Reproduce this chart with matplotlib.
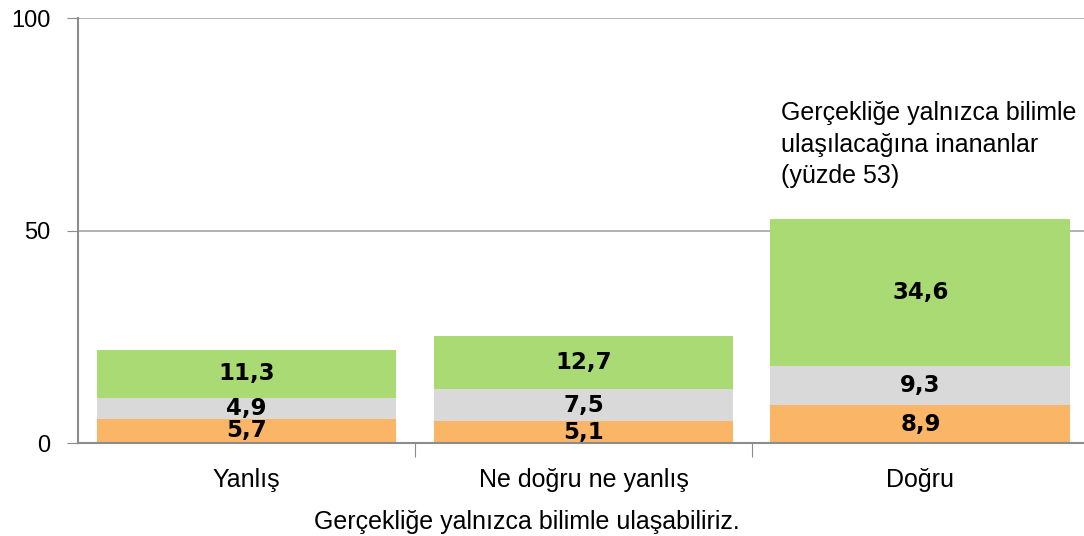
import matplotlib
matplotlib.use("Agg")
import matplotlib.pyplot as plt
import numpy as np

plt.rcParams['font.family'] = ['Liberation Sans', 'DejaVu Sans']

categories = ["Yanlış", "Ne doğru ne yanlış", "Doğru"]
bottom_vals = [5.7, 5.1, 8.9]
middle_vals = [4.9, 7.5, 9.3]
top_vals = [11.3, 12.7, 34.6]

colors = ["#FBB566", "#D9D9D9", "#A9DA74"]

fig = plt.figure(figsize=(10.84, 5.36), dpi=100)
ax = fig.add_axes([0.072, 0.1735, 0.9325, 0.7925])

x = np.arange(len(categories))
width = 0.89
base = np.zeros(len(categories))
for vals, col in zip([bottom_vals, middle_vals, top_vals], colors):
    vals = np.array(vals)
    ax.bar(x, vals, width, bottom=base, color=col, zorder=2)
    for xi, b, v in zip(x, base, vals):
        ax.text(xi, b + v / 2, f"{v:.1f}".replace(".", ","), ha="center", va="center",
                fontsize=16.5, fontweight="bold", family="DejaVu Sans", zorder=3)
    base = base + vals

ax.set_xlim(-0.5, 2.5)
ax.set_ylim(0, 100)
ax.set_yticks([0, 50, 100])
ax.tick_params(axis="y", labelsize=17, length=8, color="#8C8C8C", pad=12)
ax.yaxis.grid(True, color="#A6A6A6", linewidth=1.2, zorder=0)

ax.set_xticks([0.5, 1.5], minor=False)
ax.set_xticklabels([])
ax.set_xticks(x, minor=True)
ax.set_xticklabels(categories, minor=True, fontsize=18)
ax.tick_params(axis="x", which="major", length=10, color="#8C8C8C")
ax.tick_params(axis="x", which="minor", length=0, pad=18)

for s in ["top", "right"]:
    ax.spines[s].set_visible(False)
for s in ["left", "bottom"]:
    ax.spines[s].set_color("#8C8C8C")
    ax.spines[s].set_linewidth(1.5)

ax.set_xlabel("Gerçekliğe yalnızca bilimle ulaşabiliriz.", fontsize=18)
ax.xaxis.set_label_coords(0.444, -0.158)

ax.text(1.585, 80.5, "Gerçekliğe yalnızca bilimle\nulaşılacağına inananlar\n(yüzde 53)",
        ha="left", va="top", fontsize=18, linespacing=1.4)

fig.savefig("out.png", dpi=100)
